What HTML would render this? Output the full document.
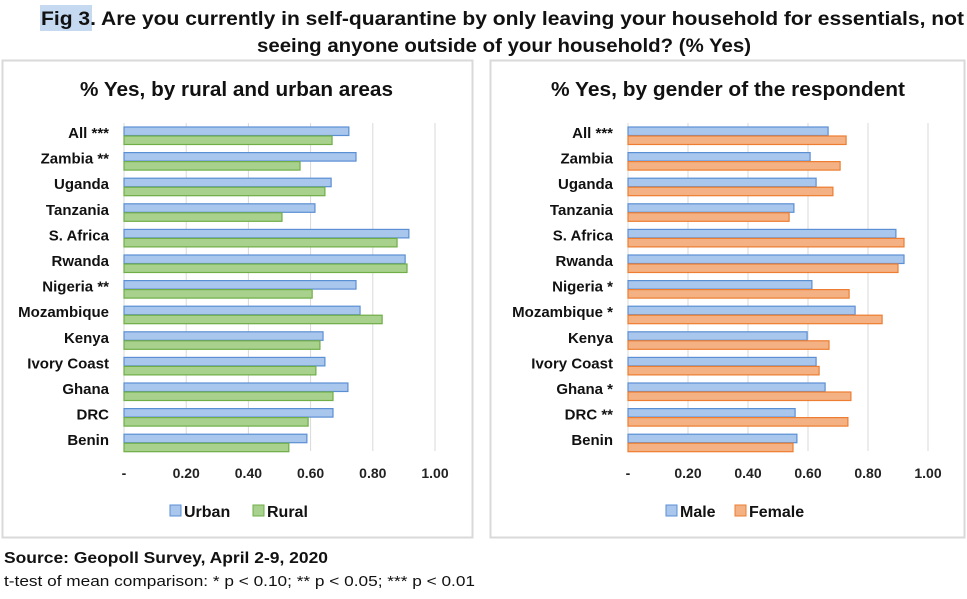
<!DOCTYPE html>
<html><head><meta charset="utf-8"><style>
body{margin:0;background:#fff;width:967px;height:594px;overflow:hidden;font-family:"Liberation Sans",sans-serif}
</style></head><body>
<svg width="967" height="594" xmlns="http://www.w3.org/2000/svg" font-family="Liberation Sans, sans-serif">
<rect x="40" y="5" width="52" height="26" fill="#c5d9f1"/>
<text x="41" y="25" font-size="19" font-weight="bold" fill="#111" textLength="923" lengthAdjust="spacingAndGlyphs">Fig 3. Are you currently in self-quarantine by only leaving your household for essentials, not</text>
<text x="257" y="52" font-size="19" font-weight="bold" fill="#111" textLength="494" lengthAdjust="spacingAndGlyphs">seeing anyone outside of your household? (% Yes)</text>
<rect x="2.5" y="60.5" width="470" height="477" fill="#fff" stroke="#d9d9d9" stroke-width="2"/>
<rect x="490.5" y="60.5" width="474" height="477" fill="#fff" stroke="#d9d9d9" stroke-width="2"/>
<text x="80" y="96" font-size="20" font-weight="bold" fill="#111" textLength="313" lengthAdjust="spacingAndGlyphs">% Yes, by rural and urban areas</text>
<text x="551" y="96" font-size="20" font-weight="bold" fill="#111" textLength="354" lengthAdjust="spacingAndGlyphs">% Yes, by gender of the respondent</text>
<g id="charts"></g>
<text x="4" y="563" font-size="16" font-weight="bold" fill="#111" textLength="324" lengthAdjust="spacingAndGlyphs">Source: Geopoll Survey, April 2-9, 2020</text>
<text x="4" y="586" font-size="15" fill="#111" textLength="471" lengthAdjust="spacingAndGlyphs">t-test of mean comparison: * p &lt; 0.10; ** p &lt; 0.05; *** p &lt; 0.01</text>
</svg>
<script>
const ns="http://www.w3.org/2000/svg",g=document.getElementById("charts");
function el(t,a,txt){const e=document.createElementNS(ns,t);for(const k in a)e.setAttribute(k,a[k]);if(txt)e.textContent=txt;g.appendChild(e);return e;}
function chart(x0,sc,labels,d1,d2,c2f,c2s,leg,legx){
 for(let i=1;i<=5;i++){const x=x0+sc*i/5;el("line",{x1:x,x2:x,y1:123,y2:451,stroke:"#d9d9d9","stroke-width":1});}
 el("line",{x1:x0,x2:x0,y1:123,y2:451,stroke:"#d9d9d9"});
 labels.forEach((l,i)=>{const y=127+i*25.6;
  el("rect",{x:x0,y:y,width:d1[i]*sc,height:8.5,fill:"#a9c6ec",stroke:"#5b8fd4","stroke-width":1.2});
  el("rect",{x:x0,y:y+9,width:d2[i]*sc,height:8.5,fill:c2f,stroke:c2s,"stroke-width":1.2});
  el("text",{x:x0-15,y:y+11,"text-anchor":"end","font-size":15,"font-weight":"bold",fill:"#111"},l);});
 ["-","0.20","0.40","0.60","0.80","1.00"].forEach((t,i)=>el("text",{x:x0+sc*i/5,y:478,"text-anchor":"middle","font-size":14,"font-weight":"bold",fill:"#222"},t));
 el("rect",{x:legx,y:505,width:11,height:11,fill:"#a9c6ec",stroke:"#5b8fd4"});
 el("text",{x:legx+14,y:517,"font-size":16,"font-weight":"bold",fill:"#111"},leg[0]);
 el("rect",{x:legx+leg[2],y:505,width:11,height:11,fill:c2f,stroke:c2s});
 el("text",{x:legx+leg[2]+14,y:517,"font-size":16,"font-weight":"bold",fill:"#111"},leg[1]);
}
chart(124,311,["All ***","Zambia **","Uganda","Tanzania","S. Africa","Rwanda","Nigeria **","Mozambique","Kenya","Ivory Coast","Ghana","DRC","Benin"],
[.723,.746,.666,.614,.916,.904,.746,.759,.64,.646,.72,.672,.588],
[.669,.566,.646,.508,.878,.91,.605,.83,.63,.617,.672,.592,.53],"#a9d18e","#70ad47",["Urban","Rural",83],170);
chart(628,300,["All ***","Zambia","Uganda","Tanzania","S. Africa","Rwanda","Nigeria *","Mozambique *","Kenya","Ivory Coast","Ghana *","DRC **","Benin"],
[.667,.607,.627,.553,.893,.92,.613,.757,.597,.627,.657,.557,.563],
[.727,.707,.683,.537,.92,.9,.737,.847,.67,.637,.743,.733,.55],"#f4b183","#ed7d31",["Male","Female",69],666);
</script>
</body></html>
